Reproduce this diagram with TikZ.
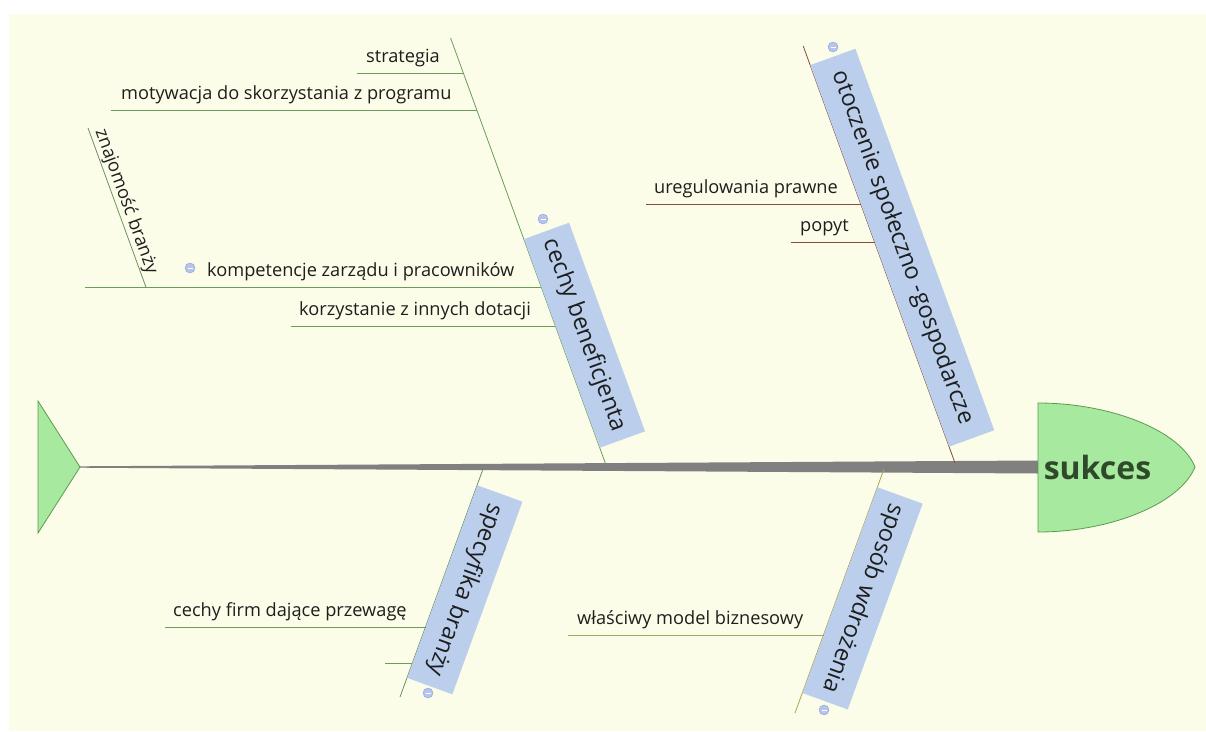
\documentclass[tikz,border=0pt]{standalone}
\usepackage{fontspec}
\setmainfont{Open Sans}
\definecolor{cream}{HTML}{FBFDE8}
\definecolor{boxblue}{HTML}{BBCFEC}
\definecolor{gline}{HTML}{6A9D5A}
\definecolor{cline}{HTML}{6F8F66}
\definecolor{bline}{HTML}{8B4B3B}
\definecolor{oline}{HTML}{A8A45A}
\definecolor{spinecol}{HTML}{808080}
\definecolor{headfill}{HTML}{A8E9A0}
\definecolor{headdraw}{HTML}{5B9B50}
\definecolor{headtext}{HTML}{2E4A2A}
\definecolor{togfill}{HTML}{B4C4EC}
\definecolor{togdraw}{HTML}{8FA3D6}
\definecolor{txt}{HTML}{1E1E1E}
\begin{document}
\begin{tikzpicture}[x=1pt,y=-1pt,
  subtext/.style={font=\fontsize{18.2}{20}\selectfont, inner sep=0pt, anchor=base west, text=txt},
  bonebox/.style={fill=boxblue, inner sep=0pt, minimum height=48pt, font=\fontsize{23.5}{26}\selectfont, text=txt, anchor=south west},
  subline/.style={line width=0.8pt},
  toggle/.style={circle, fill=togfill, draw=togdraw, line width=0.4pt, minimum size=10pt, inner sep=0pt,
    path picture={\draw[white,line width=1pt] ([xshift=-2.5pt]path picture bounding box.center) -- ([xshift=2.5pt]path picture bounding box.center);}}
]
\useasboundingbox (0,0) rectangle (1206,731);
\fill[white] (0,0) rectangle (1206,731);
\fill[cream] (9,14) rectangle (1206,731);

% tail
\filldraw[fill=headfill, draw=headdraw, line width=0.8pt] (38,401) -- (80,467) -- (38,533) -- cycle;
\coordinate (tail) at (80,467);
% spine
\fill[spinecol] (80,466.3) -- (1038,460.5) -- (1038,473.5) -- (80,467.7) -- cycle;
% head
\filldraw[fill=headfill, draw=headdraw, line width=0.8pt] (1038,403) .. controls (1110,403) and (1180,430) .. (1195,467) .. controls (1180,504) and (1110,532) .. (1038,532) -- cycle;
\node[font=\bfseries\fontsize{32}{34}\selectfont, text=headtext, anchor=base, inner sep=0pt] (head) at (1097.5,479) {sukces};

% ---------- branch A: cechy beneficjenta ----------
\coordinate (Atop) at (450.6,38);
\coordinate (Abot) at (606,465);
\draw[gline, subline] (Atop) -- (Abot);
\node[bonebox, rotate=-70, minimum width=222pt] (A) at (523.7,239) {cechy beneficjenta};
\node[toggle] (tA) at (543,219) {};

\coordinate (sA1) at (357,73);   \coordinate (jA1) at (463.3,73);
\coordinate (sA2) at (111,110);  \coordinate (jA2) at (476.8,110);
\coordinate (sA3) at (85,287);   \coordinate (jA3) at (541.2,287);
\coordinate (sA4) at (291,326);  \coordinate (jA4) at (555.4,326);
\draw[gline, subline] (sA1) -- (jA1);
\draw[gline, subline] (sA2) -- (jA2);
\draw[gline, subline] (sA3) -- (jA3);
\draw[gline, subline] (sA4) -- (jA4);
\node[subtext] (tA1) at (366,62) {strategia};
\node[subtext] (tA2) at (121,99) {motywacja do skorzystania z programu};
\node[subtext] (tA3) at (207,276) {kompetencje zarządu i pracowników};
\node[subtext] (tA4) at (299,315) {korzystanie z innych dotacji};
\node[toggle] (tK) at (190,268) {};
% sub-sub: znajomość branży
\coordinate (zTop) at (88,128);
\coordinate (zBot) at (145.9,287);
\draw[cline, subline] (zTop) -- (zBot);
\node[subtext, anchor=south west, rotate=-70] (tZ) at (91,133) {znajomość branży};

% ---------- branch B: otoczenie społeczno -gospodarcze ----------
\coordinate (Btop) at (803.2,46);
\coordinate (Bbot) at (955,463);
\draw[bline, subline] (Btop) -- (Bbot);
\node[bonebox, rotate=-70, minimum width=406pt] (B) at (810,65) {otoczenie społeczno -gospodarcze};
\node[toggle] (tB) at (833,47) {};
\coordinate (sB1) at (646,204);  \coordinate (jB1) at (860.7,204);
\coordinate (sB2) at (791,242);  \coordinate (jB2) at (874.5,242);
\draw[bline, subline] (sB1) -- (jB1);
\draw[bline, subline] (sB2) -- (jB2);
\node[subtext] (tB1) at (654,193) {uregulowania prawne};
\node[subtext] (tB2) at (800,231) {popyt};

% ---------- branch C: specyfika branży ----------
\coordinate (Ctop) at (483,469);
\coordinate (Cbot) at (400,697);
\draw[cline, subline] (Ctop) -- (Cbot);
\node[bonebox, rotate=-110, minimum width=205pt] (C) at (477.2,485) {specyfika branży};
\node[toggle] (tC) at (428,693) {};
\coordinate (sC1) at (165,627);  \coordinate (jC1) at (425.5,627);
\coordinate (sC2) at (385,663);  \coordinate (jC2) at (412.4,663);
\draw[gline, subline] (sC1) -- (jC1);
\draw[gline, subline] (sC2) -- (jC2);
\node[subtext] (tC1) at (173,616) {cechy firm dające przewagę};

% ---------- branch D: sposób wdrożenia ----------
\coordinate (Dtop) at (884,469);
\coordinate (Dbot) at (795,713);
\draw[oline, subline] (Dtop) -- (Dbot);
\node[bonebox, rotate=-110, minimum width=219pt] (D) at (877.4,487) {sposób wdrożenia};
\node[toggle] (tD) at (824,710) {};
\coordinate (sD1) at (568,635);  \coordinate (jD1) at (823.6,635);
\draw[oline, subline] (sD1) -- (jD1);
\node[subtext] (tD1) at (577,624) {właściwy model biznesowy};
\end{tikzpicture}
\end{document}
